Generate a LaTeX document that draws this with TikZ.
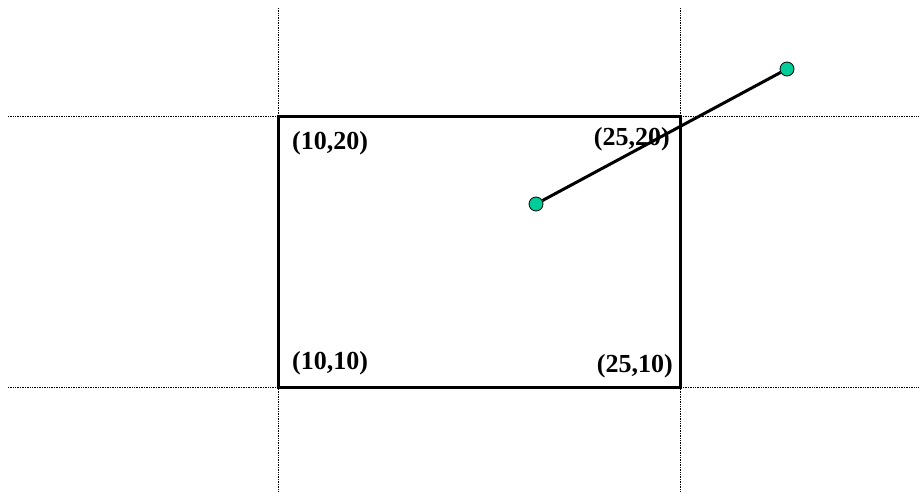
\documentclass[tikz,border=0pt]{standalone}
\usepackage{fontspec}
\setmainfont{Liberation Serif}
\usepackage{tikz}
\usetikzlibrary{positioning}
\definecolor{dotgreen}{HTML}{00CC99}

\begin{document}
\begin{tikzpicture}[
    x=1pt, y=-1pt,
    every node/.style={font=\fontsize{26}{30}\selectfont\bfseries},
    guide/.style={densely dotted, line width=0.7pt},
    edge/.style={line width=3pt},
    pt/.style={circle, draw, fill=dotgreen, line width=0.8pt, minimum size=14pt, inner sep=0pt},
    lbl/.style={inner sep=0pt}
]
    \useasboundingbox (0,0) rectangle (919,493);

    \coordinate (ll) at (278,387);
    \coordinate (ur) at (680,116);

    \draw[guide] (278,8) -- (278,492);
    \draw[guide] (680,8) -- (680,492);
    \draw[guide] (8,116) -- (919,116);
    \draw[guide] (8,387) -- (919,387);

    \draw[edge] (ll) rectangle (ur);

    \node[lbl, anchor=west] (tl) at (292,143) {(10,20)};
    \node[lbl, anchor=east] (tr) at (670,139) {(25,20)};
    \node[lbl, anchor=west] (bl) at (292,363) {(10,10)};
    \node[lbl, anchor=east] (br) at (673,366) {(25,10)};

    \node[pt] (p) at (536,204) {};
    \node[pt] (q) at (787,69) {};
    \draw[edge] (p) -- (q);
\end{tikzpicture}
\end{document}
